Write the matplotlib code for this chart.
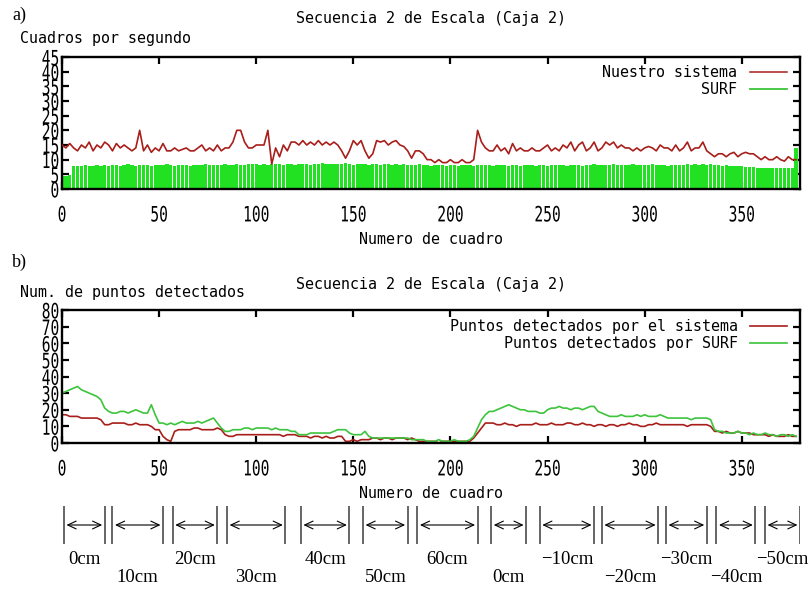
import numpy as np
import matplotlib
matplotlib.use("Agg")
import matplotlib.pyplot as plt
from matplotlib.patheffects import AbstractPathEffect
from matplotlib.transforms import Affine2D
from matplotlib.lines import Line2D

# ---------------------------------------------------------------- data
FRAME_STEP = 2  # one sample every two frames

# a) frames per second
fps_sistema = [
    15, 14, 15.5, 14, 13, 15, 14, 16, 13, 15,
    14, 16, 15, 13, 15.5, 14, 15, 14, 13, 14,
    20, 13, 15, 12.5, 14, 13, 15.5, 13, 13, 14,
    13, 13.5, 14, 13, 13, 14, 15, 13, 14, 13,
    15, 13, 14, 14, 16, 20, 20, 16, 14, 14,
    15, 15, 15, 20, 8.5, 14, 11, 15, 13, 16,
    16, 15, 16.5, 15, 16, 15, 16.5, 15, 16, 15,
    16, 15, 13, 10.5, 13, 16.5, 15, 16.5, 13, 10.5,
    12, 16.5, 16, 16.5, 15, 16, 16.5, 15, 14.5, 13,
    10.5, 13, 13, 12, 10, 10, 9, 10, 9, 9,
    10, 9, 9, 10, 9, 9, 10, 20, 16, 14,
    13, 13, 15, 13, 14, 12, 15.5, 13, 14, 13,
    13, 14, 13, 13, 14, 15, 13, 14, 13, 15,
    14, 16, 13, 15, 16, 13, 14, 16, 13, 14,
    16, 15, 16, 14, 15, 14, 14, 13, 14, 13,
    14, 14.5, 14, 13, 15, 14, 14, 13, 15, 13,
    14, 16, 13, 14, 14, 16, 13, 12, 11, 12,
    12, 11, 12, 12.5, 11, 12, 12.5, 12, 12, 11,
    10, 11, 10, 10, 11, 10, 9.5, 11, 10, 10,
]
fps_surf = [
    4.6, 4.6, 4.8, 7.9, 8.0, 7.8, 8.1, 8.0, 7.9, 8.2,
    8.0, 8.1, 7.9, 8.2, 8.3, 8.0, 8.1, 8.4, 8.2, 8.0,
    8.3, 8.1, 8.2, 8.0, 8.3, 8.2, 8.1, 8.4, 8.2, 8.0,
    8.1, 8.3, 8.2, 8.0, 8.2, 8.1, 8.3, 8.4, 8.2, 8.1,
    8.3, 8.2, 8.5, 8.3, 8.1, 8.4, 8.2, 8.3, 8.5, 8.4,
    8.6, 8.3, 8.4, 8.2, 8.5, 8.4, 8.6, 8.3, 8.4, 8.5,
    8.3, 8.6, 8.4, 8.5, 8.3, 8.6, 8.5, 8.7, 8.4, 8.6,
    8.5, 8.4, 8.6, 8.7, 8.5, 8.3, 8.6, 8.4, 8.5, 8.3,
    8.4, 8.6, 8.3, 8.5, 8.4, 8.2, 8.5, 8.3, 8.4, 8.2,
    8.3, 8.1, 8.4, 8.2, 8.3, 8.0, 8.2, 8.1, 8.3, 8.0,
    8.2, 8.1, 8.0, 8.3, 8.1, 8.2, 8.0, 8.2, 8.1, 8.3,
    8.2, 8.0, 8.3, 8.1, 8.2, 8.0, 8.1, 8.3, 8.0, 8.2,
    8.1, 8.3, 8.0, 8.2, 8.1, 8.0, 8.2, 8.1, 8.3, 8.2,
    8.0, 8.2, 8.1, 8.3, 8.0, 8.2, 8.1, 8.4, 8.2, 8.3,
    8.1, 8.2, 8.4, 8.2, 8.3, 8.1, 8.2, 8.4, 8.3, 8.2,
    8.3, 8.2, 8.4, 8.1, 8.3, 8.2, 8.0, 8.2, 8.1, 8.3,
    8.2, 8.4, 8.3, 8.5, 8.2, 8.4, 8.3, 8.5, 8.2, 8.1,
    8.0, 8.2, 7.9, 8.0, 7.8, 7.9, 7.6, 7.5, 7.4, 7.3,
    7.2, 7.3, 7.1, 7.2, 7.3, 7.1, 7.2, 7.0, 7.2, 14.0,
]

# b) detected points
pts_sistema = [
    17, 17, 16, 16, 16, 15, 15, 15, 15, 15, 14,
    11, 11, 12, 12, 12, 12, 11, 11, 12, 11, 11, 11, 10,
    8, 8, 4, 2, 1,
    7, 8, 8, 8, 8, 9, 9, 8, 8, 8, 8, 9, 8,
    5, 4, 4, 5, 5, 5, 5, 5, 5, 5, 5, 5, 5, 5, 5, 4, 5, 5, 5,
    4, 4, 4, 3, 4, 4, 3, 4, 3, 3, 4, 4,
    1, 1, 2, 1, 2, 2, 2,
    3, 3, 2, 3, 3, 2, 3, 3, 3, 2, 3, 2,
    1, 1, 1, 1, 1, 0, 1, 1, 1, 1, 1, 1, 1, 1,
    3, 6, 9, 12, 12, 12,
    11, 11, 12, 11, 11, 10, 11, 11, 11, 11, 12, 11, 11, 11,
    12, 11, 11, 11, 12, 12, 11, 11, 12, 11, 11, 10, 11,
    11, 10, 11, 11, 10, 11, 11, 12, 11, 11, 10, 10, 11, 11, 12,
    11, 11, 11, 11, 11, 11, 11, 10, 11, 11, 11, 11, 11, 10,
    7, 7, 6, 7, 6, 6, 7, 6, 6, 6, 5, 5, 5, 5, 4, 5, 4, 4, 4, 5, 4, 4,
]
pts_surf = [
    30, 31, 32, 33, 34, 32, 31, 30, 29, 28, 26,
    21, 19, 18, 18, 19, 19, 18, 19, 20, 19, 18, 18, 23,
    17, 12, 12, 11, 12, 11, 12, 13, 12, 12, 12, 13, 12, 13, 14, 15, 12, 9,
    7, 7, 8, 8, 8, 9, 9, 8, 9, 9, 9, 9, 8, 9, 8, 8, 8, 7, 7,
    5, 5, 5, 6, 6, 6, 6, 6, 6, 7, 8, 8,
    8, 6, 5, 5, 5, 7, 4,
    3, 3, 3, 3, 3, 3, 3, 3, 3, 3, 2, 2,
    2, 2, 1, 1, 1, 2, 1, 1, 1, 2, 1, 1, 1, 2,
    4, 9, 14, 17, 19, 19,
    20, 21, 22, 23, 22, 21, 20, 20, 19, 19, 19, 18, 18, 20,
    21, 21, 22, 21, 21, 20, 21, 21, 20, 21, 22, 22, 19,
    18, 17, 16, 16, 16, 17, 16, 16, 16, 17, 16, 17, 16, 16, 16,
    17, 16, 15, 15, 15, 15, 15, 15, 14, 15, 15, 15, 15, 14,
    8, 7, 7, 6, 6, 6, 7, 6, 6, 5, 6, 5, 5, 6, 5, 5, 4, 5, 5, 4, 5, 4,
]

# scale-change segments (frame ranges) and the camera displacement of each
segment_start = [1, 26, 57, 85, 123, 155, 183, 221, 246, 278, 311, 337, 362]
segment_end = [22, 52, 80, 115, 148, 178, 214, 239, 274, 307, 332, 357, 380]
segment_label = ["0cm", "10cm", "20cm", "30cm", "40cm", "50cm", "60cm",
                 "0cm", "\u221210cm", "\u221220cm", "\u221230cm",
                 "\u221240cm", "\u221250cm"]

x_ticks = [0, 50, 100, 150, 200, 250, 300, 350]

# ---------------------------------------------------------------- style
MONO = "DejaVu Sans Mono"
SERIF = "Liberation Serif"
RED = "#a81e1a"
GREEN_FILL = "#22e022"
GREEN_LINE = "#3cc43c"
W, H = 810, 589


class TallGlyphs(AbstractPathEffect):
    """Stretch glyphs vertically about the middle of the digit height."""

    def __init__(self, sy=1.45, mid=36.0):
        super().__init__()
        self.sy = sy
        self.mid = mid

    def draw_path(self, renderer, gc, tpath, affine, rgbFace=None):
        stretch = Affine2D().translate(0, -self.mid).scale(1, self.sy).translate(0, self.mid)
        renderer.draw_path(gc, tpath, stretch + affine, rgbFace)


def fx(px):
    return px / W


def fy(py):
    return 1 - py / H


def style_axes(ax, ymax, ystep):
    ax.set_xlim(0, 380)
    ax.set_ylim(0, ymax)
    ax.set_xticks(x_ticks)
    ax.set_yticks(np.arange(0, ymax + 1, ystep))
    ax.tick_params(direction="in", top=True, right=True, length=5, width=1.6,
                   labelsize=10.5)
    ax.tick_params(axis="x", pad=13)
    ax.tick_params(axis="y", pad=2)
    for sp in ax.spines.values():
        sp.set_linewidth(1.7)
    for lbl in ax.get_xticklabels() + ax.get_yticklabels():
        lbl.set_fontfamily(MONO)
        lbl.set_path_effects([TallGlyphs()])


fig = plt.figure(figsize=(W / 100, H / 100), dpi=100)
fig.patch.set_facecolor("white")

# ---------------------------------------------------------------- a)
ax1 = fig.add_axes([fx(62), fy(189), (800 - 62) / W, (189 - 57) / H])
fr_a = np.arange(len(fps_surf)) * FRAME_STEP
ax1.bar(fr_a, fps_surf, width=1.72, color=GREEN_FILL, linewidth=0, zorder=2)
fr_s = np.arange(len(fps_sistema)) * FRAME_STEP
ax1.plot(fr_s, fps_sistema, color=RED, lw=1.2, zorder=3)
style_axes(ax1, 45, 5)
ax1.set_xlabel("Numero de cuadro", fontfamily=MONO, fontsize=10.8, va="center")
ax1.xaxis.set_label_coords(0.5, -(240 - 189) / (189 - 57))
ax1.legend([Line2D([], [], color=RED, lw=1.1), Line2D([], [], color=GREEN_LINE, lw=1.3)],
           ["Nuestro sistema", "SURF"], loc="upper right",
           bbox_to_anchor=((787 - 62) / 738, 1 - (65 - 57) / 132),
           frameon=False, markerfirst=False, handlelength=2.5, handletextpad=0.8,
           labelspacing=0.15, borderaxespad=0, borderpad=0,
           prop={"family": MONO, "size": 10.8})

fig.text(fx(12), fy(15), "a)", fontfamily=SERIF, fontsize=13, va="center")
fig.text(fx(431), fy(18), "Secuencia 2 de Escala (Caja 2)", fontfamily=MONO,
         fontsize=10.8, ha="center", va="center")
fig.text(fx(20), fy(38), "Cuadros por segundo", fontfamily=MONO, fontsize=10.8,
         ha="left", va="center")

# ---------------------------------------------------------------- b)
ax2 = fig.add_axes([fx(62), fy(443), 738 / W, (443 - 310) / H])
fr_b1 = np.arange(len(pts_sistema)) * FRAME_STEP
fr_b2 = np.arange(len(pts_surf)) * FRAME_STEP
ax2.plot(fr_b1, pts_sistema, color=RED, lw=1.2, label="Puntos detectados por el sistema")
ax2.plot(fr_b2, pts_surf, color=GREEN_LINE, lw=1.2, label="Puntos detectados por SURF")
style_axes(ax2, 80, 10)
ax2.set_xlabel("Numero de cuadro", fontfamily=MONO, fontsize=10.8, va="center")
ax2.xaxis.set_label_coords(0.5, -(494 - 443) / (443 - 310))
ax2.legend(loc="upper right", bbox_to_anchor=((787 - 62) / 738, 1 - (319 - 310) / 133),
           frameon=False, markerfirst=False, handlelength=2.5, handletextpad=0.8,
           labelspacing=0.15, borderaxespad=0, borderpad=0,
           prop={"family": MONO, "size": 10.8})

fig.text(fx(12), fy(262), "b)", fontfamily=SERIF, fontsize=13, va="center")
fig.text(fx(431), fy(285), "Secuencia 2 de Escala (Caja 2)", fontfamily=MONO,
         fontsize=10.8, ha="center", va="center")
fig.text(fx(20), fy(293), "Num. de puntos detectados", fontfamily=MONO, fontsize=10.8,
         ha="left", va="center")

# ---------------------------------------------------------------- segments
ax3 = fig.add_axes([fx(62), 0, 738 / W, 89 / H])
ax3.set_xlim(0, 380)
ax3.set_ylim(0, 89)
ax3.axis("off")
ax3.vlines(segment_start + segment_end, 45, 83, colors="#3c3c3c", lw=1.1)
for i, (s, e, lab) in enumerate(zip(segment_start, segment_end, segment_label)):
    ax3.annotate("", xy=(e - 1.3, 64), xytext=(s + 1.3, 64),
                 arrowprops=dict(arrowstyle="<->,head_length=0.6,head_width=0.28",
                                 lw=0.8, color="black", shrinkA=0, shrinkB=0))
    ax3.text((s + e) / 2, 30 if i % 2 == 0 else 11, lab, ha="center", va="center",
             fontfamily=SERIF, fontsize=13.5)

fig.savefig("out.png", dpi=100, facecolor="white")
